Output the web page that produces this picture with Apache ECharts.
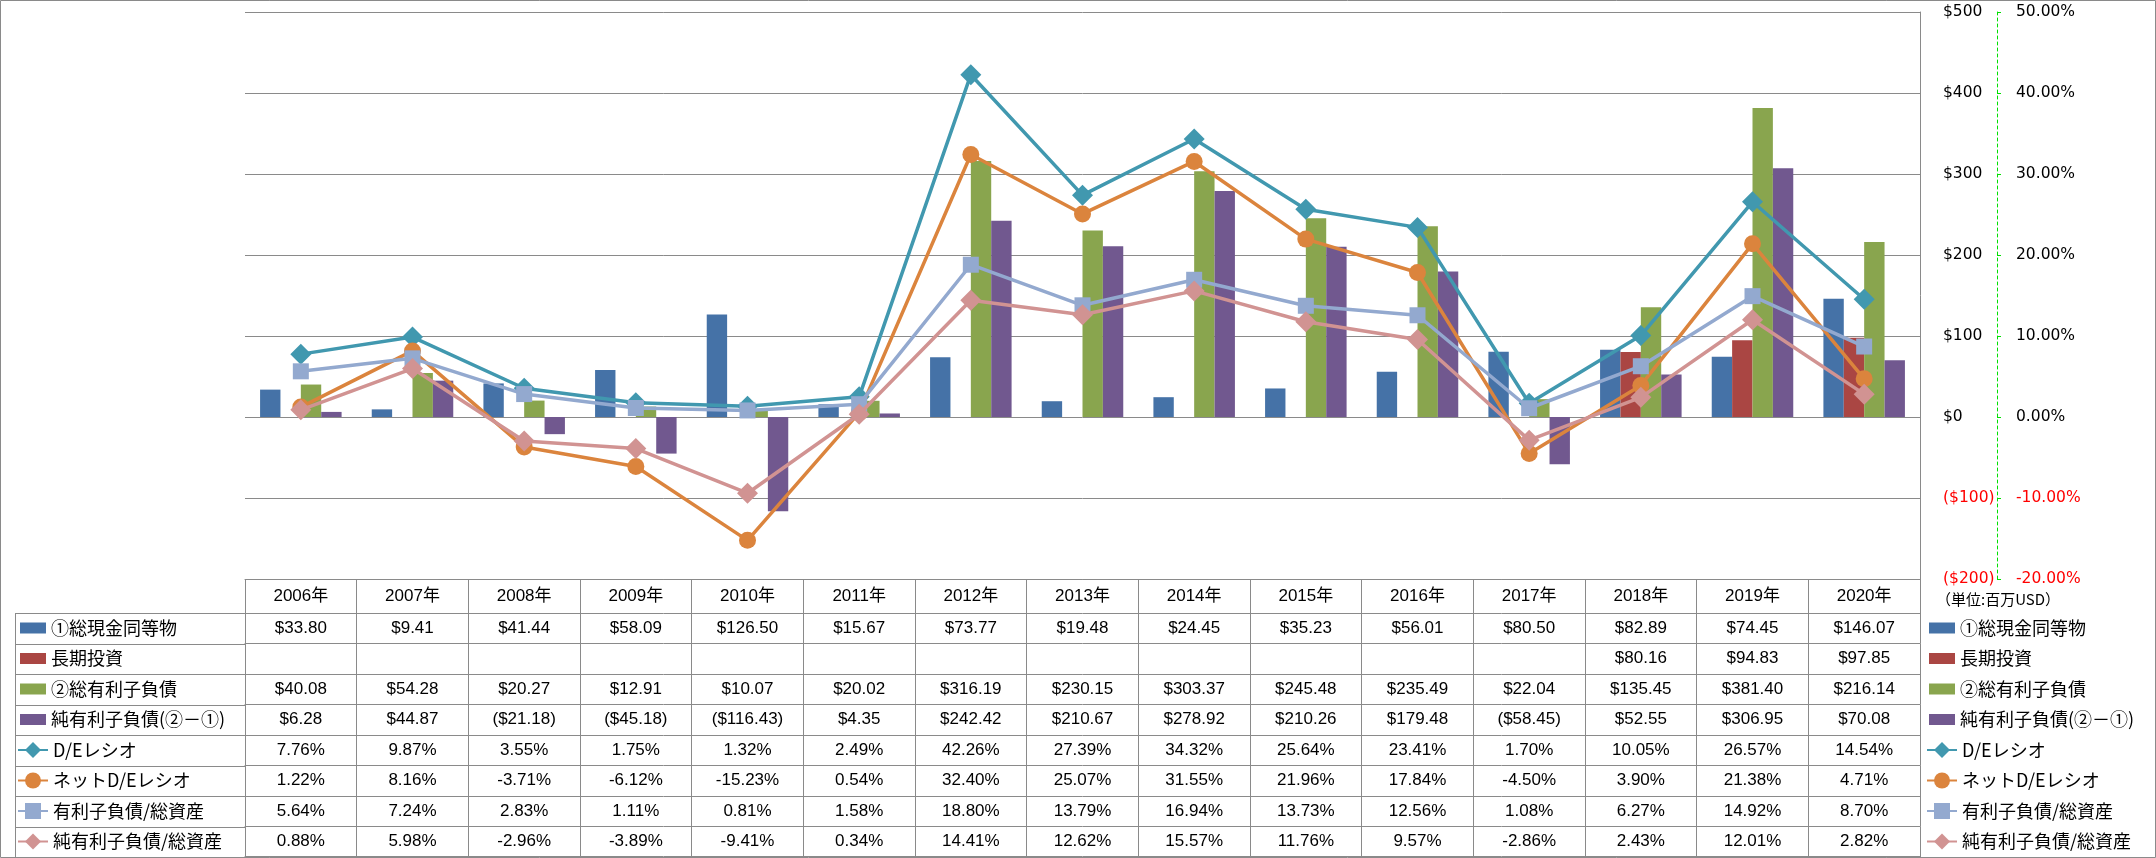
<!DOCTYPE html>
<html><head><meta charset="utf-8">
<script src="https://cdn.jsdelivr.net/npm/echarts@6/dist/echarts.min.js"></script>
<style>html,body{margin:0;padding:0;background:#fff}#c{width:2156px;height:858px}</style>
</head><body><div id="c"></div>
<script>
// ---------- data ----------
const years = ['2006年','2007年','2008年','2009年','2010年','2011年','2012年','2013年','2014年','2015年','2016年','2017年','2018年','2019年','2020年'];
const seriesNames = ['①総現金同等物','長期投資','②総有利子負債','純有利子負債(②－①)','D/Eレシオ','ネットD/Eレシオ','有利子負債/総資産','純有利子負債/総資産'];
const cashEq = [33.80, 9.41, 41.44, 58.09, 126.50, 15.67, 73.77, 19.48, 24.45, 35.23, 56.01, 80.50, 82.89, 74.45, 146.07];
const ltInvest = [null, null, null, null, null, null, null, null, null, null, null, null, 80.16, 94.83, 97.85];
const totalDebt = [40.08, 54.28, 20.27, 12.91, 10.07, 20.02, 316.19, 230.15, 303.37, 245.48, 235.49, 22.04, 135.45, 381.40, 216.14];
const netDebt = [6.28, 44.87, -21.18, -45.18, -116.43, 4.35, 242.42, 210.67, 278.92, 210.26, 179.48, -58.45, 52.55, 306.95, 70.08];
const deRatio = [7.76, 9.87, 3.55, 1.75, 1.32, 2.49, 42.26, 27.39, 34.32, 25.64, 23.41, 1.70, 10.05, 26.57, 14.54];
const netDeRatio = [1.22, 8.16, -3.71, -6.12, -15.23, 0.54, 32.40, 25.07, 31.55, 21.96, 17.84, -4.50, 3.90, 21.38, 4.71];
const debtToAssets = [5.64, 7.24, 2.83, 1.11, 0.81, 1.58, 18.80, 13.79, 16.94, 13.73, 12.56, 1.08, 6.27, 14.92, 8.70];
const netDebtToAssets = [0.88, 5.98, -2.96, -3.89, -9.41, 0.34, 14.41, 12.62, 15.57, 11.76, 9.57, -2.86, 2.43, 12.01, 2.82];
const dollarAxis = {min: -200, max: 500, interval: 100};
const pctAxis = {min: -20, max: 50, interval: 10};
const unitText = '（単位:百万USD）';

// ---------- styling / layout ----------
const colors = ['#4572A7','#AA4643','#89A54E','#71588F','#4198AF','#DB843D','#93A9CF','#D19392'];
const symbols = ['diamond','circle','rect','diamond'];
const symbolSizes = [21, 17, 16, 21];
const W = 2156, H = 858;
const plotL = 245, plotR = 1920, plotT = 12, plotB = 579;
const headerH = 34, rowH = 30.5, tableL = 15;
const gray = '#8a8a8a';
const numFont = "'Liberation Sans','Noto Sans CJK JP'";
const cjkFont = "'Noto Sans CJK JP'";
const axisFont = "'DejaVu Sans'";

const money = v => v == null ? '' : (v < 0 ? '($' + (-v).toFixed(2) + ')' : '$' + v.toFixed(2));
const pct = v => v == null ? '' : v.toFixed(2) + '%';

const barData = [cashEq, ltInvest, totalDebt, netDebt];
const lineData = [deRatio, netDeRatio, debtToAssets, netDebtToAssets];
const tableRows = [
  cashEq.map(money), ltInvest.map(money), totalDebt.map(money), netDebt.map(money),
  deRatio.map(pct), netDeRatio.map(pct), debtToAssets.map(pct), netDebtToAssets.map(pct)
];

function rowAxis(data, offset, tickLen, lh, showLabel, showTick) {
  return {
    type: 'category', gridIndex: 0, position: 'bottom', offset: offset, data: data,
    boundaryGap: true,
    axisLine: {show: true, onZero: false, lineStyle: {color: gray, width: 1}},
    axisTick: {show: showTick, length: tickLen, interval: 0, alignWithLabel: false, lineStyle: {color: gray, width: 1}},
    axisLabel: {show: showLabel, interval: 0, margin: 0, lineHeight: lh, fontSize: 17, color: '#000', fontFamily: numFont, verticalAlign: 'top'},
    splitLine: {show: false}, axisPointer: {show: false}
  };
}

const xAxes = [rowAxis(years, 0, headerH, headerH, true, true)];
tableRows.forEach((r, i) => xAxes.push(rowAxis(r, headerH + i * rowH, rowH, rowH, true, true)));
xAxes.push(rowAxis(years, headerH + tableRows.length * rowH - 1, 0, rowH, false, false));

const series = [];
barData.forEach((d, i) => series.push({
  name: seriesNames[i], type: 'bar', xAxisIndex: 0, yAxisIndex: 0, data: d,
  barGap: '0%', barCategoryGap: '27%', itemStyle: {color: colors[i]}, z: 2
}));
lineData.forEach((d, i) => series.push({
  name: seriesNames[4 + i], type: 'line', xAxisIndex: 0, yAxisIndex: 1, data: d,
  symbol: symbols[i], symbolSize: symbolSizes[i], showSymbol: true,
  lineStyle: {color: colors[4 + i], width: 3.5}, itemStyle: {color: colors[4 + i]}, z: 3 + i
}));

function legend(names, left, top, w, h, isBar) {
  const l = {
    data: names, left: left, top: top, orient: 'vertical', padding: 0,
    itemWidth: w, itemHeight: h, itemGap: 0.5, selectedMode: false,
    textStyle: {fontSize: 18, lineHeight: 30, color: '#000', fontFamily: cjkFont}
  };
  if (isBar) l.icon = 'rect';
  return l;
}

// table structure for the label column (extends the row lines to the left)
const graphics = [{type: 'rect', shape: {x: 0.5, y: 0.5, width: W - 1, height: H - 1}, style: {fill: 'none', stroke: gray, lineWidth: 1}, silent: true}];
for (let i = 0; i <= tableRows.length; i++) {
  const y = Math.round(plotB + headerH + i * rowH) + 0.5;
  graphics.push({type: 'line', shape: {x1: tableL, y1: y, x2: plotL, y2: y}, style: {stroke: gray, lineWidth: 1}, silent: true});
}
graphics.push({type: 'line', shape: {x1: tableL + 0.5, y1: plotB + headerH, x2: tableL + 0.5, y2: H - 1}, style: {stroke: gray, lineWidth: 1}, silent: true});

const option = {
  animation: false,
  backgroundColor: '#fff',
  title: {text: unitText, left: 1936, top: 592, padding: 0, textStyle: {fontSize: 15, fontWeight: 'normal', color: '#000', fontFamily: cjkFont}},
  grid: {left: plotL, right: W - plotR, top: plotT, bottom: H - plotB, containLabel: false},
  legend: [
    legend(seriesNames.slice(0, 4), 20, plotB + headerH, 26, 11, true),
    legend(seriesNames.slice(4), 17, plotB + headerH + 4 * rowH, 30, 20, false),
    legend(seriesNames.slice(0, 4), 1929, plotB + headerH, 26, 11, true),
    legend(seriesNames.slice(4), 1926, plotB + headerH + 4 * rowH, 30, 20, false)
  ],
  xAxis: xAxes,
  yAxis: [
    {
      type: 'value', position: 'right', min: dollarAxis.min, max: dollarAxis.max, interval: dollarAxis.interval,
      axisLine: {show: true, lineStyle: {color: gray, width: 1}},
      axisTick: {show: false},
      splitLine: {show: true, lineStyle: {color: gray, width: 1}},
      axisLabel: {margin: 23, fontSize: 15.5, fontFamily: axisFont,
        formatter: v => v < 0 ? '($' + (-v) + ')' : '$' + v,
        color: v => (Number(v) < 0 ? '#FF0000' : '#000')}
    },
    {
      type: 'value', position: 'right', offset: 77, min: pctAxis.min, max: pctAxis.max, interval: pctAxis.interval,
      axisLine: {show: true, lineStyle: {color: '#00E000', width: 1, type: [3, 3]}},
      axisTick: {show: true, length: 4, inside: false, lineStyle: {color: '#00E000', width: 1}},
      splitLine: {show: false},
      axisLabel: {margin: 19, fontSize: 15.5, fontFamily: axisFont,
        formatter: v => v.toFixed(2) + '%',
        color: v => (Number(v) < 0 ? '#FF0000' : '#000')}
    }
  ],
  graphic: graphics,
  series: series
};

const chart = echarts.init(document.getElementById('c'), null, {renderer: 'canvas'});
chart.setOption(option);
</script>
</body></html>
